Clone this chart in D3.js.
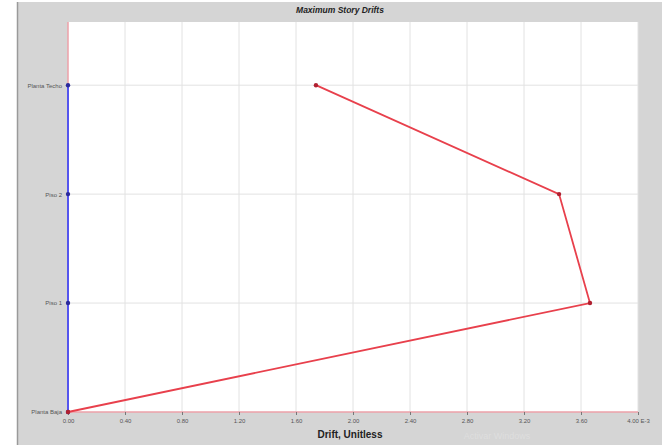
<!DOCTYPE html>
<html><head><meta charset="utf-8">
<script src="https://cdn.jsdelivr.net/npm/d3@7"></script>
<style>body{margin:0;background:#fff}svg{display:block}</style>
</head><body>
<svg id="c" width="662" height="445"></svg>
<script>
const stories = ["Planta Baja","Piso 1","Piso 2","Planta Techo"];
const driftX = [0, 3.663, 3.446, 1.740];
const driftY = [0, 0, 0, 0];
const xTicks = [0,0.4,0.8,1.2,1.6,2.0,2.4,2.8,3.2,3.6,4.0];
const xTickLabels = ["0.00","0.40","0.80","1.20","1.60","2.00","2.40","2.80","3.20","3.60","4.00 E-3"];

const svg = d3.select("#c");
const W=662,H=445;
const L=68,R=638,T=22,B=412;
// backgrounds
svg.append("rect").attr("x",0).attr("y",0).attr("width",W).attr("height",H).attr("fill","#fff");
svg.append("rect").attr("x",17).attr("y",2).attr("width",W-17).attr("height",H-2).attr("fill","#d5d5d5");
svg.append("line").attr("x1",17.5).attr("x2",17.5).attr("y1",2).attr("y2",H).attr("stroke","#9a9a9a").attr("stroke-width",1.5);
svg.append("rect").attr("x",L).attr("y",T).attr("width",R-L).attr("height",B-T).attr("fill","#fff");

const x = d3.scaleLinear().domain([0,4]).range([L,R]);
const y = d3.scaleLinear().domain([0,3.58]).range([B,T]);

// grid
svg.append("g").selectAll("line").data(xTicks.slice(1)).join("line")
  .attr("x1",d=>x(d)).attr("x2",d=>x(d)).attr("y1",T).attr("y2",B)
  .attr("stroke","#e2e2e2").attr("stroke-width",1);
svg.append("g").selectAll("line").data(d3.range(1,stories.length)).join("line")
  .attr("x1",L).attr("x2",R).attr("y1",d=>y(d)).attr("y2",d=>y(d))
  .attr("stroke","#e2e2e2").attr("stroke-width",1);

// axes lines
svg.append("line").attr("x1",L).attr("x2",R).attr("y1",B).attr("y2",B).attr("stroke","#eda0a8").attr("stroke-width",1.5);
svg.append("line").attr("x1",L).attr("x2",L).attr("y1",T).attr("y2",B).attr("stroke","#eda0a8").attr("stroke-width",1.5);

// x axis
const xa = d3.axisBottom(x).tickValues(xTicks).tickSize(3).tickFormat((d,i)=>xTickLabels[i]);
const gx = svg.append("g").attr("transform",`translate(0,${B})`).call(xa);
gx.select(".domain").remove();
gx.selectAll(".tick line").attr("stroke","#777");
gx.selectAll("text").attr("font-family","Arial, Liberation Sans, sans-serif").attr("font-size",6).attr("fill","#555").attr("dy","0.9em");

// y axis labels
const ya = d3.axisLeft(y).tickValues(d3.range(stories.length)).tickSize(0).tickFormat(i=>stories[i]);
const gy = svg.append("g").attr("transform",`translate(${L-3},0)`).call(ya);
gy.select(".domain").remove();
gy.selectAll("text").attr("font-family","Arial, Liberation Sans, sans-serif").attr("font-size",6).attr("fill","#555");

// series Y (blue)
const lineY = d3.line().x(d=>x(d)).y((d,i)=>y(i));
svg.append("path").attr("d",lineY(driftY)).attr("fill","none").attr("stroke","#5555ee").attr("stroke-width",2);
svg.append("g").selectAll("circle").data(driftY).join("circle")
  .attr("cx",d=>x(d)).attr("cy",(d,i)=>y(i)).attr("r",2.2).attr("fill","#2a2a9a");

// series X (red)
svg.append("path").attr("d",lineY(driftX)).attr("fill","none").attr("stroke","#e8404c").attr("stroke-width",1.8);
svg.append("g").selectAll("circle").data(driftX).join("circle")
  .attr("cx",d=>x(d)).attr("cy",(d,i)=>y(i)).attr("r",2.2).attr("fill","#b02030");

// title
svg.append("text").attr("x",340).attr("y",13).attr("text-anchor","middle")
  .attr("font-family","Arial, Liberation Sans, sans-serif").attr("font-size",8.5).attr("font-weight","bold").attr("font-style","italic").attr("fill","#222")
  .text("Maximum Story Drifts");
// x label
svg.append("text").attr("x",350).attr("y",438).attr("text-anchor","middle")
  .attr("font-family","Arial, Liberation Sans, sans-serif").attr("font-size",10).attr("font-weight","bold").attr("fill","#222")
  .text("Drift, Unitless");
// faint watermark
svg.append("text").attr("x",497).attr("y",439).attr("text-anchor","middle")
  .attr("font-family","Arial, Liberation Sans, sans-serif").attr("font-size",9).attr("fill","#dedede")
  .text("Activar Windows");
</script>
</body></html>
